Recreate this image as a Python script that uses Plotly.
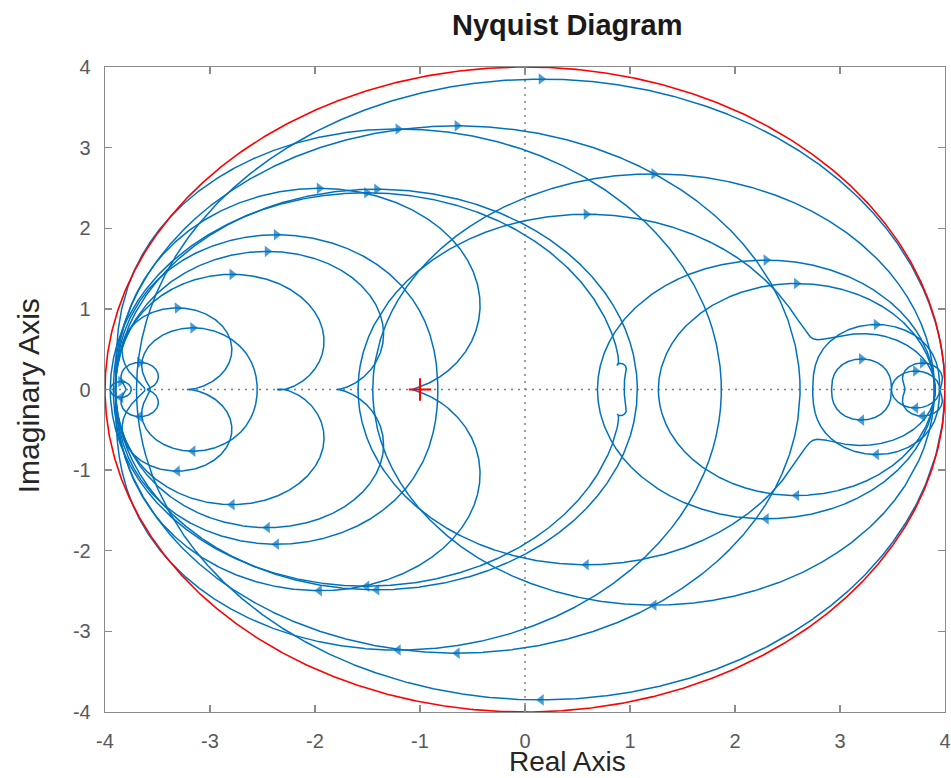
import numpy as np
import plotly.graph_objects as go

# ---------------- data ----------------
TITLE = "Nyquist Diagram"
X_LABEL = "Real Axis"
Y_LABEL = "Imaginary Axis"
TICKS = [-4, -3, -2, -1, 0, 1, 2, 3, 4]

BOUND_GAIN = 4.0            # red reference system |G| = 4
CRITICAL_X = -1.0           # red "+" marker
CRITICAL_Y = 0.0

# blue family of sampled systems: G(s) = HF gain + sum of 2nd-order sections
LOOP_HF_GAIN = [-3.70, -3.92, -3.90, -1.45, -3.95, -3.90, -1.59, -3.90, 0.69, -3.90,
                -3.62, -3.57, -3.90, 1.27, -3.90, 2.74, 2.92, 3.49, 3.62, -3.80, -3.95]
SEC_LOOP = [0, 1, 2, 3, 4, 4, 5, 6, 6, 7, 8, 9, 10, 11, 12, 13, 14, 15, 16, 17, 18, 19, 20]
SEC_GAIN = [7.70, 6.54, 2.83, 5.35, 4.88, 0.016, 4.97, 4.30, 1.20, 2.11, 3.21, 1.54,
            0.40, 1.02, 3.07, 2.63, 5.77, 1.21, 0.57, 0.46, 0.33, 0.20, 0.20]
SEC_WN = [1, 1, 1, 1, 1, 0.05, 1, 3, 0.06, 1, 1, 1, 1, 1, 1, 1, 1, 1, 1, 1, 1, 1, 1]
SEC_ZETA = [1, 1, 0.62, 1, 1, 0.1, 1, 1, 1, 0.7, 1, 0.6, 0.2, 0.7, 0.8, 1, 0.95, 0.75,
            0.75, 1, 0.5, 0.3, 1]
SEC_LEAD = [1, 1, 1.20, 1, 1, 0.0, 1, 1, 1, 1.40, 1, 1.25, 0.42, 0.3, 0.8, 1, 0.55, 0.75,
            0.75, 1, 0.5, 0.5, 1]

BLUE = "#0072BD"
RED = "#FF0000"
AXIS_GREY = "#8a8a8a"
TEXT_GREY = "#595959"
FONT = "Liberation Sans, Arial, Helvetica, sans-serif"

# ---------------- frequency responses ----------------
w = np.logspace(-4, 4, 8000)
s = 1j * w


def loop_response(k):
    g = np.full(w.shape, LOOP_HF_GAIN[k], dtype=complex)
    for i, li in enumerate(SEC_LOOP):
        if li != k:
            continue
        sn = s / SEC_WN[i]
        g = g + SEC_GAIN[i] * (1 + SEC_LEAD[i] * sn) / (sn ** 2 + 2 * SEC_ZETA[i] * sn + 1)
    return g


fig = go.Figure()

arrow_x, arrow_y, arrow_size = [], [], []
for k in range(len(LOOP_HF_GAIN)):
    g = loop_response(k)
    upper = np.conj(g[::-1])
    full = np.concatenate([upper, g])
    fig.add_trace(go.Scatter(x=full.real, y=full.imag, mode="lines",
                             line=dict(color=BLUE, width=1.5),
                             hoverinfo="skip", showlegend=False))
    idx = int(np.argmax(np.abs(g.imag)))
    idx = min(max(idx, 6), len(g) - 7)
    p_prev, p_cur = g[idx - 6], g[idx]                       # positive frequencies
    n_prev, n_cur = np.conj(g[idx + 6]), np.conj(g[idx])     # negative frequencies
    for prev, cur in ((p_prev, p_cur), (n_prev, n_cur)):
        arrow_x += [prev.real, cur.real]
        arrow_y += [prev.imag, cur.imag]
        arrow_size += [0, 10]

fig.add_trace(go.Scatter(x=arrow_x, y=arrow_y, mode="markers",
                         marker=dict(symbol="triangle-up", angleref="previous",
                                     size=arrow_size, color=BLUE, line=dict(width=0)),
                         hoverinfo="skip", showlegend=False))

# red reference system (constant gain magnitude)
theta = np.linspace(0, 2 * np.pi, 1441)
ref = BOUND_GAIN * np.exp(-1j * theta)
fig.add_trace(go.Scatter(x=ref.real, y=ref.imag, mode="lines",
                         line=dict(color=RED, width=1.6),
                         hoverinfo="skip", showlegend=False))

fig.add_trace(go.Scatter(x=[CRITICAL_X], y=[CRITICAL_Y], mode="markers",
                         marker=dict(symbol="cross-thin", size=16,
                                     line=dict(color=RED, width=2)),
                         hoverinfo="skip", showlegend=False))

# dotted axes through origin
dot = dict(color="#808080", width=1.5, dash="2px,5px")
fig.add_shape(type="line", xref="x", yref="y", x0=TICKS[0], x1=TICKS[-1], y0=0, y1=0,
              line=dot, layer="below")
fig.add_shape(type="line", xref="x", yref="y", x0=0, x1=0, y0=TICKS[0], y1=TICKS[-1],
              line=dot, layer="below")

axis_common = dict(
    range=[TICKS[0], TICKS[-1]], tickvals=TICKS, ticktext=[str(t) for t in TICKS],
    showgrid=False, zeroline=False, showline=True, mirror="ticks",
    linecolor=AXIS_GREY, linewidth=1.3, ticks="inside", ticklen=7,
    tickcolor=AXIS_GREY, tickwidth=1.3, automargin=False,
    tickfont=dict(family=FONT, size=20, color=TEXT_GREY),
)

fig.update_layout(
    width=951, height=778,
    margin=dict(l=105, r=6, t=67, b=66),
    paper_bgcolor="white", plot_bgcolor="white",
    xaxis=dict(**axis_common, ticklabelstandoff=11),
    yaxis=dict(**axis_common, ticklabelstandoff=9),
    showlegend=False,
    hovermode=False,
    annotations=[
        dict(text="<b>" + TITLE + "</b>", xref="paper", yref="paper",
             x=0.55, y=1.065, xanchor="center", yanchor="middle", showarrow=False,
             font=dict(family=FONT, size=29, color="#1a1a1a")),
        dict(text=X_LABEL, xref="paper", yref="paper", x=0.55, y=-0.0760,
             xanchor="center", yanchor="middle", showarrow=False,
             font=dict(family=FONT, size=28, color="#262626")),
        dict(text=Y_LABEL, xref="paper", yref="paper", x=-0.0917, y=0.491,
             xanchor="center", yanchor="middle", showarrow=False, textangle=-90,
             font=dict(family=FONT, size=30, color="#262626")),
    ],
)

# remove the default page margin so the 951x778 figure fills the window exactly
fig.write_html("out.html",
               config={"displayModeBar": False, "staticPlot": True},
               post_script="document.body.style.margin='0';"
                           "document.body.style.overflow='hidden';")
